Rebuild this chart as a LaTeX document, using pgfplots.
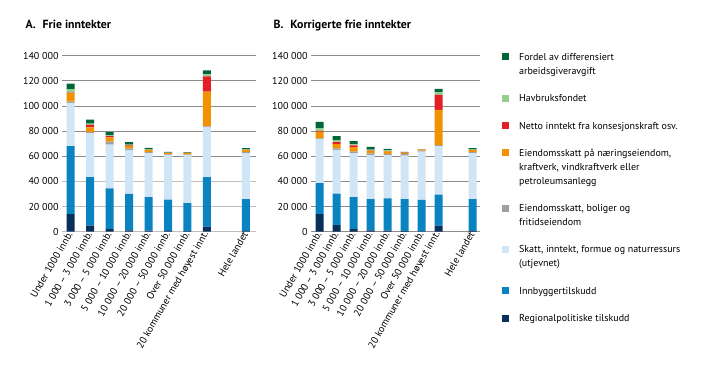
\documentclass[border=0pt]{standalone}
\usepackage{pgfplots}
\pgfplotsset{compat=1.18}
\usepackage{pgfplotstable}
\usepackage{fontspec}
\setmainfont{PT Sans}

\definecolor{creg}{RGB}{8,48,90}
\definecolor{cinnb}{RGB}{10,131,193}
\definecolor{cskatt}{RGB}{208,230,246}
\definecolor{cbolig}{RGB}{160,160,160}
\definecolor{cnaer}{RGB}{243,146,0}
\definecolor{cnetto}{RGB}{227,30,36}
\definecolor{chav}{RGB}{150,204,140}
\definecolor{cford}{RGB}{0,102,56}
\definecolor{cgrid}{RGB}{140,140,140}

\pgfplotstableread{
x reg innb skatt bolig naer netto hav ford
0 14000 54000 34500 1000 6700 400 2600 4500
1 4800 38700 34700 1000 3700 2100 1000 3200
2 2100 32400 34700 2400 3400 1000 700 2500
3 1000 29000 34700 1600 1900 500 500 2100
4 800 26800 34700 1000 1600 200 300 1200
5 600 24900 35300 800 1000 100 200 600
6 400 22400 37900 900 1000 100 100 300
7 4000 39500 39500 800 27600 12200 1600 3200
9 600 25400 36300 1000 1600 200 300 1100
}\frie

\pgfplotstableread{
x reg innb skatt bolig naer netto hav ford
0 14000 24700 34700 800 5300 300 2600 5000
1 5300 24900 34800 1300 3400 1600 1600 3200
2 2100 25500 34700 1300 3700 1300 800 2700
3 1000 25000 35000 1300 1900 300 700 2200
4 800 25700 34500 800 2100 200 500 1200
5 500 25500 34500 1500 800 100 200 300
6 300 25100 38200 800 1000 100 100 100
7 4800 24600 38700 800 28100 11900 1900 2900
9 600 25400 36300 1000 1600 200 300 1100
}\korr

\newcommand{\fs}{\fontsize{10}{14}\selectfont}
\newcommand{\nl}{\strut\par\strut}
\newcommand{\ml}[1]{\parbox[b]{200pt}{\fs\strut #1\strut}}

\pgfplotsset{
  mybars/.style={
    scale only axis,
    height=176pt,
    ymin=0, ymax=140000,
    ybar stacked,
    bar width=8pt,
    enlargelimits=false,
    axis line style={draw=none},
    major tick length=0pt,
    ymajorgrids,
    grid style={cgrid, line width=0.8pt},
    scaled y ticks=false,
    /pgf/number format/.cd, fixed, 1000 sep={\ }, assume math mode=true,
    /pgfplots/.cd,
    yticklabel style={font=\fs},
    xtick={0,1,2,3,4,5,6,7,9},
    xticklabels={Under 1000 innb., 1 000 – 3 000 innb., 3 000 – 5 000 innb., 5 000 – 10 000 innb., 10 000 – 20 000 innb., 20 000 – 50 000 innb., Over 50 000 innb., 20 kommuner med høyest innt., Hele landet},
    xticklabel style={rotate=60, anchor=east, font=\fs, inner sep=1pt},
    every axis plot/.append style={draw=none},
    legend image code/.code={\fill[##1] (0pt,0pt) rectangle (7pt,7pt);},
  },
  legtwo/.style={legend image code/.code={\fill[##1] (0pt,14pt) rectangle (7pt,21pt);}},
  legthree/.style={legend image code/.code={\fill[##1] (0pt,28pt) rectangle (7pt,35pt);}},
}

\begin{document}
\begin{tikzpicture}
\path[use as bounding box] (0pt,0pt) rectangle (719pt,383pt);

\node[anchor=base west, font=\fontsize{11.8}{13}\selectfont\bfseries] at (22pt,354pt) {A.\hspace{7pt}Frie inntekter};
\node[anchor=base west, font=\fontsize{11.8}{13}\selectfont\bfseries] at (270pt,354pt) {B.\hspace{7pt}Korrigerte frie inntekter};

\begin{axis}[mybars,
  at={(62pt,151.3pt)}, anchor=south west,
  width=193.7pt, xmin=-0.44, xmax=9.5,
  ytick={60000,80000,...,140000},
  extra y ticks={0,20000,40000},
  extra y tick style={grid style={color=black!25, line width=1.5pt}},
]
\addplot[fill=creg] table[x=x,y=reg]{\frie};
\addplot[fill=cinnb] table[x=x,y=innb]{\frie};
\addplot[fill=cskatt] table[x=x,y=skatt]{\frie};
\addplot[fill=cbolig] table[x=x,y=bolig]{\frie};
\addplot[fill=cnaer] table[x=x,y=naer]{\frie};
\addplot[fill=cnetto] table[x=x,y=netto]{\frie};
\addplot[fill=chav] table[x=x,y=hav]{\frie};
\addplot[fill=cford] table[x=x,y=ford]{\frie};
\end{axis}

\begin{axis}[mybars,
  at={(311pt,151.3pt)}, anchor=south west,
  width=169pt, xmin=-0.5, xmax=9.44,
  ytick={0,20000,...,140000},
  reverse legend,
  legend style={draw=none, fill=none, at={(axis description cs:1.112,1.041)}, anchor=north west,
    font=\fs, row sep=16pt, column sep=10pt,
    nodes={inner sep=0pt},
    cells={anchor=base west}},
]
\addplot[fill=creg] table[x=x,y=reg]{\korr};
\addlegendentry{\ml{Regionalpolitiske tilskudd}}
\addplot[fill=cinnb] table[x=x,y=innb]{\korr};
\addlegendentry{\ml{Innbyggertilskudd}}
\addplot[fill=cskatt, legtwo] table[x=x,y=skatt]{\korr};
\addlegendentry{\ml{Skatt, inntekt, formue og naturressurs\nl(utjevnet)}}
\addplot[fill=cbolig, legtwo] table[x=x,y=bolig]{\korr};
\addlegendentry{\ml{Eiendomsskatt, boliger og\nl fritidseiendom}}
\addplot[fill=cnaer, legthree] table[x=x,y=naer]{\korr};
\addlegendentry{\ml{Eiendomsskatt på næringseiendom,\nl kraftverk, vindkraftverk eller\nl petroleumsanlegg}}
\addplot[fill=cnetto] table[x=x,y=netto]{\korr};
\addlegendentry{\ml{Netto inntekt fra konsesjonskraft osv.}}
\addplot[fill=chav] table[x=x,y=hav]{\korr};
\addlegendentry{\ml{Havbruksfondet}}
\addplot[fill=cford, legtwo] table[x=x,y=ford]{\korr};
\addlegendentry{\ml{Fordel av differensiert\nl arbeidsgiveravgift}}
\end{axis}
\end{tikzpicture}
\end{document}
